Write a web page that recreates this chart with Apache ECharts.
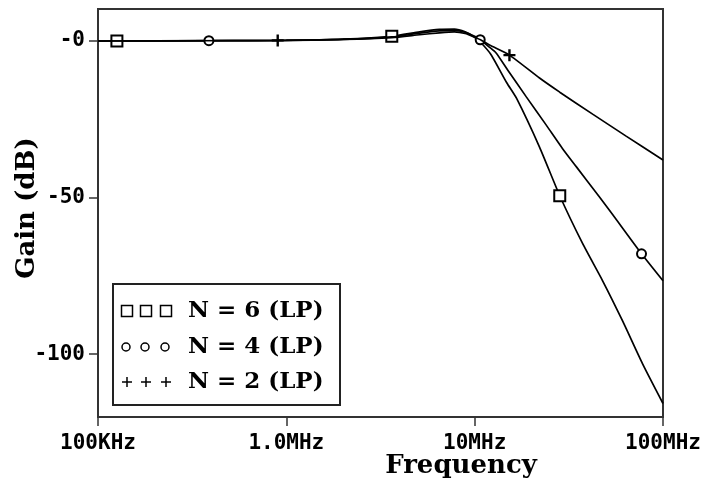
<!DOCTYPE html>
<html>
<head>
<meta charset="utf-8">
<script src="https://cdn.jsdelivr.net/npm/echarts@6/dist/echarts.min.js"></script>
<style>
html,body{margin:0;padding:0;background:#fff;}
#chart{width:708px;height:486px;}
</style>
</head>
<body>
<div id="chart"></div>
<script>
// ---- data (frequency in MHz, gain in dB) ----
const freq6 = [0.1, 0.126, 0.5, 1.0, 2.0, 3.63, 5.1, 6.5, 7.8, 8.9, 10, 10.9, 12.2, 14.8, 16.7, 22.1, 28.3, 37.4, 47.8, 61, 77.8, 100];
const gain6 = [-0.2, -0.2, -0.1, 0, 0.4, 1.3, 2.7, 3.5, 3.6, 2.7, 1.0, -1.0, -4.5, -13.5, -18.5, -34, -49.5, -64.7, -76.6, -89.4, -103, -115.7];
const markIdx6 = [1, 5, 16];

const freq4 = [0.1, 0.388, 1, 2, 3.63, 5.1, 6.5, 7.8, 8.9, 10, 10.7, 12, 13, 15, 18.8, 24, 29.3, 34.7, 46, 54, 76.9, 100];
const gain4 = [-0.2, -0.1, 0, 0.3, 1.1, 2.3, 3.0, 3.2, 2.6, 1.3, 0.2, -2.2, -4, -9.5, -18, -27, -34.5, -40.3, -49.9, -55.5, -68, -76.6];
const markIdx4 = [1, 10, 20];

const freq2 = [0.1, 0.9, 2, 3.63, 5.1, 6.5, 7.8, 8.9, 10, 10.9, 12, 15.3, 22.1, 28.3, 42.3, 63.7, 100];
const gain2 = [-0.2, 0, 0.3, 0.9, 1.8, 2.4, 2.7, 2.2, 1.0, 0.0, -1.5, -4.7, -12, -16.5, -23.5, -30.5, -38.1];
const markIdx2 = [1, 11];

const seriesNames = ['N = 6 (LP)', 'N = 4 (LP)', 'N = 2 (LP)'];
const xTickLabels = ['100KHz', '1.0MHz', '10MHz', '100MHz'];
const yTickValues = [-100, -50, 0];
const yTickLabels = ['-100', '-50', '-0'];
const xTitle = 'Frequency';
const yTitle = 'Gain (dB)';

// ---- styles ----
const PLUS = 'path://M4,0h2v10h-2z M0,4h10v2h-10z';
const symbolDefs = [
  {symbol: 'rect', size: 11, style: {color: '#fff', borderColor: '#000', borderWidth: 2}},
  {symbol: 'circle', size: 9, style: {color: '#fff', borderColor: '#000', borderWidth: 2}},
  {symbol: PLUS, size: 12, style: {color: '#000', borderWidth: 0}}
];

function buildData(freqs, gains, marks, def) {
  return freqs.map((f, i) => {
    const item = {value: [f, gains[i]]};
    if (marks.indexOf(i) >= 0) {
      item.symbol = def.symbol;
      item.symbolSize = def.size;
    } else {
      item.symbol = 'none';
    }
    return item;
  });
}

const sets = [[freq6, gain6, markIdx6], [freq4, gain4, markIdx4], [freq2, gain2, markIdx2]];
const series = sets.map((s, k) => ({
  name: seriesNames[k],
  type: 'line',
  data: buildData(s[0], s[1], s[2], symbolDefs[k]),
  showSymbol: true,
  showAllSymbol: true,
  symbol: symbolDefs[k].symbol,
  symbolSize: symbolDefs[k].size,
  smooth: 0.2,
  lineStyle: {color: '#000', width: 1.7},
  itemStyle: symbolDefs[k].style,
  z: 3 + k,
  animation: false
}));

const tickFont = {fontFamily: 'DejaVu Sans Mono', fontWeight: 'bold', fontSize: 21, color: '#000'};

// legend drawn as graphic
const legX = 113, legY = 284, legW = 227, legH = 121;
const rowY = [311, 347, 382];
const legChildren = [{type: 'rect', shape: {x: legX, y: legY, width: legW, height: legH}, style: {fill: '#fff', stroke: '#222', lineWidth: 2}}];
const mx = [127, 146, 166];
mx.forEach(x => {
  legChildren.push({type: 'rect', shape: {x: x - 5.5, y: rowY[0] - 5.5, width: 11, height: 11}, style: {fill: '#fff', stroke: '#000', lineWidth: 1.5}});
  legChildren.push({type: 'circle', shape: {cx: x - 1, cy: rowY[1], r: 4}, style: {fill: '#fff', stroke: '#000', lineWidth: 1.5}});
  legChildren.push({type: 'rect', shape: {x: x - 5, y: rowY[2] - 0.75, width: 10, height: 1.5}, style: {fill: '#000'}});
  legChildren.push({type: 'rect', shape: {x: x - 0.75, y: rowY[2] - 5, width: 1.5, height: 10}, style: {fill: '#000'}});
});
seriesNames.forEach((n, i) => {
  legChildren.push({type: 'text', x: 188, y: rowY[i], style: {text: n, font: 'bold 23px "DejaVu Serif"', fill: '#000', textAlign: 'left', textVerticalAlign: 'middle'}});
});

const chart = echarts.init(document.getElementById('chart'), null, {renderer: 'canvas'});
chart.setOption({
  backgroundColor: '#fff',
  animation: false,
  grid: {left: 98, right: 45, top: 9, bottom: 69, show: true, borderColor: '#333', borderWidth: 2, backgroundColor: 'transparent'},
  xAxis: {
    type: 'log', logBase: 10, min: 0.1, max: 100,
    axisLine: {show: true, onZero: false, lineStyle: {color: '#333', width: 2}},
    axisTick: {show: true, length: 9, lineStyle: {color: '#333', width: 1.5}},
    minorTick: {show: false},
    splitLine: {show: false},
    axisLabel: Object.assign({
      margin: 16, showMinLabel: true, showMaxLabel: true,
      formatter: v => xTickLabels[Math.round(Math.log10(v)) + 1]
    }, tickFont)
  },
  yAxis: {
    type: 'value', min: -120, max: 10, interval: 10,
    axisLine: {show: true, onZero: false, lineStyle: {color: '#333', width: 2}},
    axisTick: {show: true, length: 9, customValues: yTickValues, lineStyle: {color: '#333', width: 1.5}},
    splitLine: {show: false},
    axisLabel: Object.assign({
      margin: 13, customValues: yTickValues,
      formatter: v => yTickLabels[yTickValues.indexOf(Math.round(v))]
    }, tickFont)
  },
  series: series,
  graphic: [
    {type: 'group', children: legChildren, z: 100},
    {type: 'text', x: 461, y: 466, style: {text: xTitle, font: 'bold 26px "DejaVu Serif"', fill: '#000', textAlign: 'center', textVerticalAlign: 'middle'}},
    {type: 'text', x: 27, y: 208, rotation: Math.PI / 2, style: {text: yTitle, font: 'bold 26px "DejaVu Serif"', fill: '#000', textAlign: 'center', textVerticalAlign: 'middle'}}
  ]
});
</script>
</body>
</html>
